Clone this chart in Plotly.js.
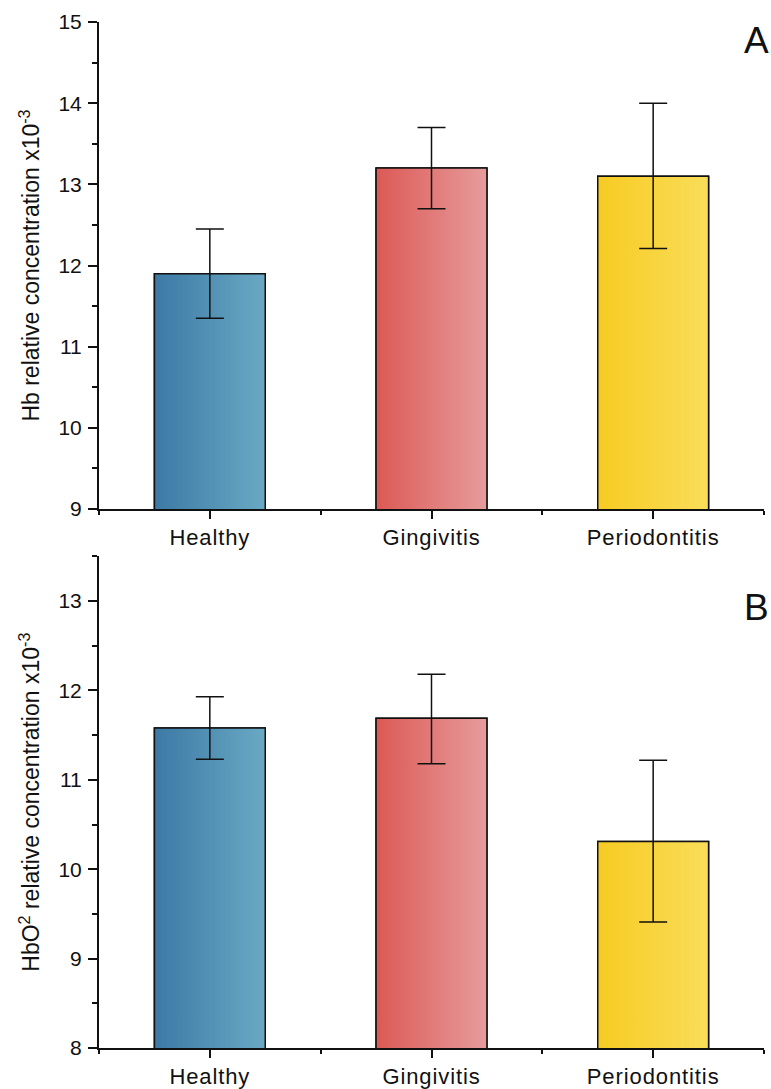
<!DOCTYPE html>
<html>
<head>
<meta charset="utf-8">
<script src="https://cdn.plot.ly/plotly-3.0.1.min.js"></script>
<style>
html,body{margin:0;padding:0;background:#fff;}
#chart{width:771px;height:1089px;}
.xtick text,.x2tick text{letter-spacing:0.9px;}
</style>
</head>
<body>
<div id="chart"></div>
<script>
// ---- data ----
const categories = ["Healthy", "Gingivitis", "Periodontitis"];
const hbValues = [11.90, 13.20, 13.10];
const hbErrPlus = [0.55, 0.50, 0.90];
const hbErrMinus = [0.55, 0.50, 0.89];
const hbo2Values = [11.58, 11.69, 10.31];
const hbo2ErrPlus = [0.35, 0.49, 0.91];
const hbo2ErrMinus = [0.35, 0.51, 0.90];
const barColors = ["#4f8db3", "#e07673", "#f8d43e"];
const barDark = ["#3c79a5", "#dc5955", "#f7cb22"];
const barLight = ["#6aa9c4", "#e69c9c", "#f9dd5a"];
const panelLabels = ["A", "B"];

const xIdx = categories.map((c, i) => i);
const font = "Liberation Sans, Arial, sans-serif";
const barWidth = 0.5;

function panelTraces(vals, ep, em, xa, ya) {
  const traces = [];
  traces.push({
    type: "bar", x: xIdx, y: vals, xaxis: xa, yaxis: ya, width: barWidth,
    marker: {color: barColors, line: {color: "#111", width: 1.5}},
    hoverinfo: "y", showlegend: false
  });
  // gradient overlay of each bar, built from the same values
  vals.forEach((v, i) => {
    const h = barWidth / 2;
    traces.push({
      type: "scatter", mode: "lines", xaxis: xa, yaxis: ya,
      x: [i - h, i + h, i + h, i - h, i - h],
      y: [0, 0, v, v, 0],
      fill: "toself",
      fillgradient: {type: "horizontal", colorscale: [[0, barDark[i]], [1, barLight[i]]]},
      line: {color: "#111", width: 1.5},
      hoverinfo: "skip", showlegend: false
    });
  });
  traces.push({
    type: "scatter", mode: "markers", x: xIdx, y: vals, xaxis: xa, yaxis: ya,
    marker: {size: 1, opacity: 0},
    error_y: {type: "data", symmetric: false, array: ep, arrayminus: em,
              color: "#111", thickness: 1.5, width: 14},
    hoverinfo: "skip", showlegend: false
  });
  return traces;
}

const xAxisBase = {
  range: [-0.5, 2.5], tickmode: "array", tickvals: xIdx, ticktext: categories,
  showline: true, linecolor: "#111", linewidth: 2, mirror: false,
  ticks: "outside", ticklen: 8, tickwidth: 2, tickcolor: "#111",
  showgrid: false, zeroline: false, fixedrange: true,
  tickfont: {family: font, size: 22, color: "#111"},
  minor: {tick0: 0.5, dtick: 1, ticks: "outside", ticklen: 4, tickwidth: 2, tickcolor: "#111", showgrid: false}
};
const yAxisBase = {
  showline: true, linecolor: "#111", linewidth: 2,
  ticks: "outside", ticklen: 9, tickwidth: 2, tickcolor: "#111",
  showgrid: false, zeroline: false, dtick: 1, fixedrange: true,
  ticklabelstandoff: 2,
  tickfont: {family: font, size: 21, color: "#111"},
  minor: {dtick: 0.5, ticks: "outside", ticklen: 5, tickwidth: 2, tickcolor: "#111", showgrid: false}
};

const data = [].concat(
  panelTraces(hbValues, hbErrPlus, hbErrMinus, "x", "y"),
  panelTraces(hbo2Values, hbo2ErrPlus, hbo2ErrMinus, "x2", "y2")
);

const layout = {
  width: 771, height: 1089,
  margin: {l: 99, r: 7, t: 22, b: 41},
  paper_bgcolor: "#fff", plot_bgcolor: "#fff",
  font: {family: font, color: "#111"},
  showlegend: false,
  xaxis: Object.assign({}, xAxisBase, {anchor: "y", domain: [0, 1]}),
  yaxis: Object.assign({}, yAxisBase, {anchor: "x", domain: [0.5253, 1], range: [9, 15],
    title: {text: "Hb relative concentration x10<sup>-3</sup>", font: {family: font, size: 23, color: "#111"}, standoff: 12}}),
  xaxis2: Object.assign({}, xAxisBase, {anchor: "y2", domain: [0, 1]}),
  yaxis2: Object.assign({}, yAxisBase, {anchor: "x2", domain: [0, 0.4792], range: [8, 13.5],
    title: {text: "HbO<sup>2</sup> relative concentration x10<sup>-3</sup>", font: {family: font, size: 23, color: "#111"}, standoff: 12}}),
  annotations: [
    {text: panelLabels[0], xref: "paper", yref: "paper", x: 1, y: 0.982, xanchor: "right", yanchor: "middle", xshift: 7,
     showarrow: false, font: {family: font, size: 37, color: "#111"}},
    {text: panelLabels[1], xref: "paper", yref: "paper", x: 1, y: 0.4295, xanchor: "right", yanchor: "middle", xshift: 7,
     showarrow: false, font: {family: font, size: 37, color: "#111"}}
  ]
};

Plotly.newPlot("chart", data, layout, {displayModeBar: false, staticPlot: true});
</script>
</body>
</html>
